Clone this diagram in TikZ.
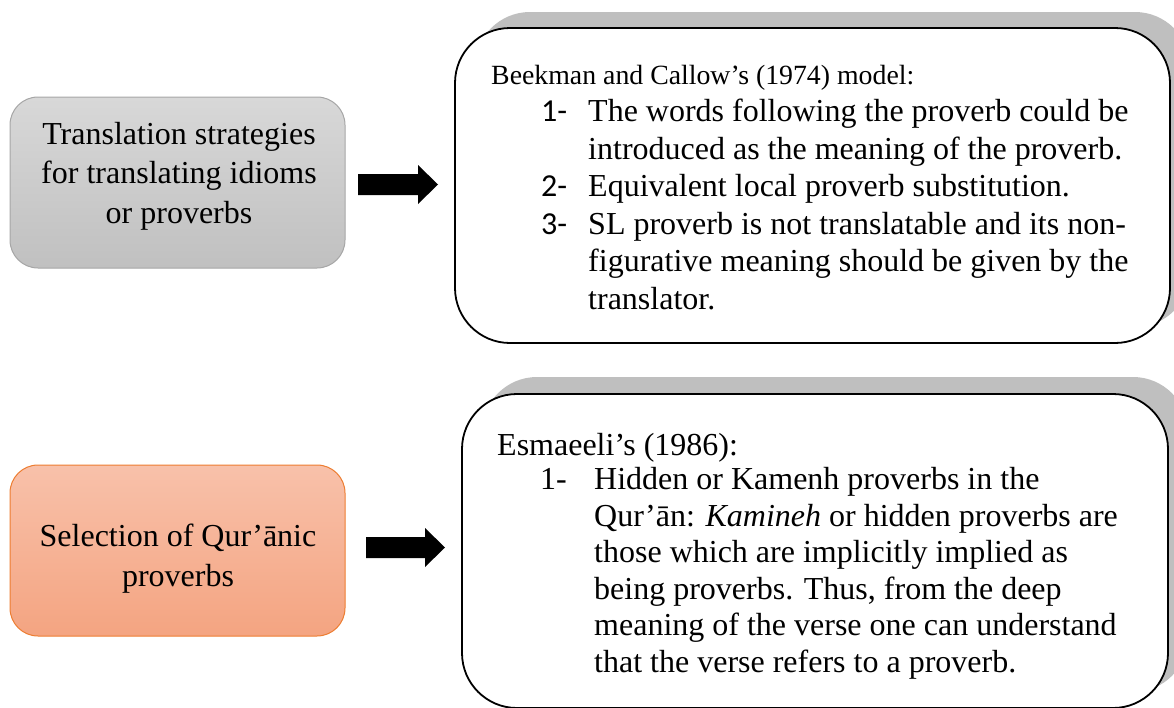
\documentclass[tikz,border=0pt]{standalone}
\usepackage{fontspec}
\setmainfont{Liberation Serif}
\newfontfamily\numfont{Carlito}
\definecolor{shadowgray}{HTML}{BFBFBF}
\definecolor{graytop}{HTML}{D8D8D8}
\definecolor{graybot}{HTML}{C0C0C0}
\definecolor{grayedge}{HTML}{A6A6A6}
\definecolor{orangetop}{HTML}{F8C1AA}
\definecolor{orangebot}{HTML}{F4A481}
\definecolor{orangeedge}{HTML}{ED7D31}
\begin{document}
\begin{tikzpicture}[x=1pt,y=-1pt,
  txt/.style={anchor=base west, inner sep=0pt, font=\fontsize{32}{38}\selectfont},
  head/.style={anchor=base west, inner sep=0pt, font=\fontsize{27.8}{33}\selectfont},
  num/.style={anchor=base west, inner sep=0pt, font=\fontsize{32}{38}\numfont},
  ctxt/.style={anchor=base, inner sep=0pt, font=\fontsize{32}{38}\selectfont},
  bigbox/.style={draw=black, line width=1.8pt, fill=white, rounded corners=55pt},
  shadowbox/.style={fill=shadowgray, rounded corners=55pt},
  graybox/.style={draw=grayedge, line width=1pt, rounded corners=28pt, top color=graytop, bottom color=graybot},
  orangebox/.style={draw=orangeedge, line width=1pt, rounded corners=28pt, top color=orangetop, bottom color=orangebot},
  fatarrow/.style={fill=black}
]
\useasboundingbox (0,0) rectangle (1174,707);

% left boxes
\path[graybox] (10,97) rectangle (345,268);
\node[ctxt] (l1) at (179,144) {Translation strategies};
\node[ctxt] (l2) at (179,183.5) {for translating idioms};
\node[ctxt] (l3) at (179,223) {or proverbs};

\path[orangebox] (10,465) rectangle (345,636);
\node[ctxt] (m1) at (178,546) {Selection of Qur’ānic};
\node[ctxt] (m2) at (178,586) {proverbs};

% block arrows
\path[fatarrow] (358,174) -- (418,174) -- (418,165) -- (438,184.5) -- (418,204) -- (418,195) -- (358,195) -- cycle;
\path[fatarrow] (366,537) -- (425,537) -- (425,528) -- (445,547.5) -- (425,567) -- (425,558) -- (366,558) -- cycle;

% right top box
\path[shadowbox] (475,12) rectangle (1190,327);
\path[bigbox] (455,28) rectangle (1170,343);
\node[head] (t0) at (491,84.3) {Beekman and Callow’s (1974) model:};
\node[num] (n1) at (541,121.5) {1-};
\node[txt] (t1) at (588,121.5) {The words following the proverb could be};
\node[txt] (t2) at (588,159) {introduced as the meaning of the proverb.};
\node[num] (n2) at (541,196.5) {2-};
\node[txt] (t3) at (588,196.5) {Equivalent local proverb substitution.};
\node[num] (n3) at (541,234) {3-};
\node[txt] (t4) at (588,234) {SL proverb is not translatable and its non-};
\node[txt] (t5) at (588,271.5) {figurative meaning should be given by the};
\node[txt] (t6) at (588,309) {translator.};

% right bottom box
\path[shadowbox] (482,377) rectangle (1188,692);
\path[bigbox] (462,394) rectangle (1168,708);
\node[txt] (e0) at (497,455) {Esmaeeli’s (1986):};
\node[txt] (k1) at (540,489.5) {1-};
\node[txt] (e1) at (594,489.5) {Hidden or Kamenh proverbs in the};
\node[txt] (e2) at (594,526) {Qur’ān: \textit{Kamineh} or hidden proverbs are};
\node[txt] (e3) at (594,562.5) {those which are implicitly implied as};
\node[txt] (e4) at (594,599) {being proverbs. Thus, from the deep};
\node[txt] (e5) at (594,635.5) {meaning of the verse one can understand};
\node[txt] (e6) at (594,672) {that the verse refers to a proverb.};
\end{tikzpicture}
\end{document}
